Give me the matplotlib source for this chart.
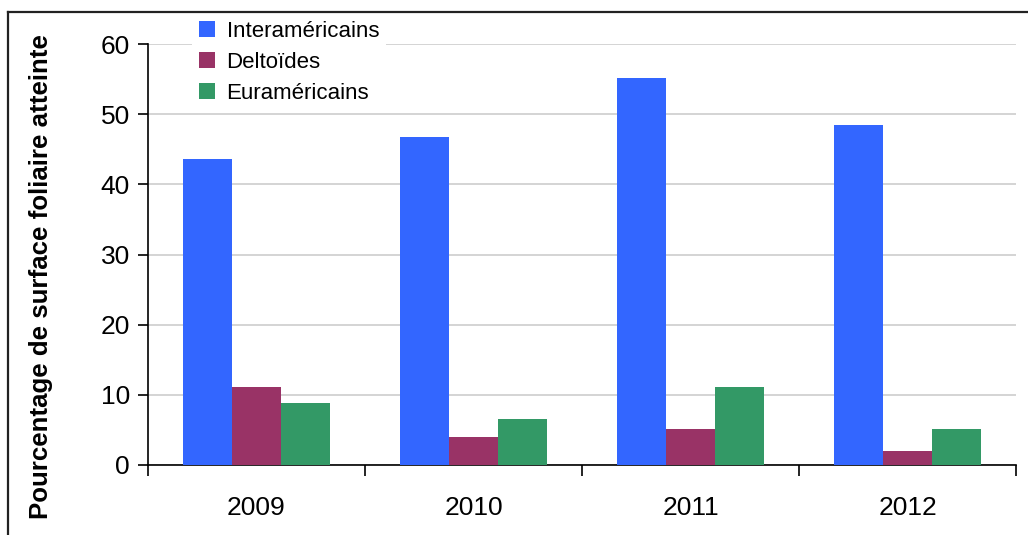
import matplotlib
matplotlib.use("Agg")
import matplotlib.pyplot as plt
import numpy as np
from matplotlib.lines import Line2D

years = ["2009", "2010", "2011", "2012"]
series_names = ["Interaméricains", "Deltoïdes", "Euraméricains"]
interamericains = [43.6, 46.8, 55.1, 48.5]
deltoides = [11.1, 4.0, 5.1, 2.0]
euramericains = [8.8, 6.5, 11.1, 5.1]
colors = ["#3366FF", "#993366", "#339966"]
yticks = [0, 10, 20, 30, 40, 50, 60]

plt.rcParams['font.family'] = ['Liberation Sans', 'DejaVu Sans']

fig = plt.figure(figsize=(10.28, 5.35), dpi=100)
ax = fig.add_axes([148/1028, 1-465/535, (1016-148)/1028, (465-44)/535])

x = np.arange(len(years))
w = 0.227
for i, (vals, name) in enumerate(zip([interamericains, deltoides, euramericains], series_names)):
    ax.bar(x + (i-1)*w, vals, width=w, color=colors[i], label=name, zorder=3)

ax.set_xlim(-0.5, len(years)-0.5)
ax.set_ylim(0, 60)
ax.set_yticks(yticks)
ax.set_yticklabels([str(t) for t in yticks], fontsize=19)
ax.yaxis.grid(True, color="#d4d4d4", linewidth=1.4, zorder=0)
ax.set_axisbelow(True)
ax.set_xticks(x)
ax.set_xticklabels(years, fontsize=19)
ax.set_xticks(np.arange(-0.5, len(years), 1.0), minor=True)
ax.tick_params(axis='x', which='major', length=0, pad=22)
ax.tick_params(axis='x', which='minor', length=8, width=1.2, direction='out')
ax.tick_params(axis='y', length=7, width=1.2, direction='out', pad=6)
for s in ['top', 'right']:
    ax.spines[s].set_visible(False)
ax.spines['left'].set_linewidth(1.2)
ax.spines['bottom'].set_linewidth(1.2)

ax.set_ylabel("Pourcentage de surface foliaire atteinte", fontsize=18.6, fontweight='bold')
ax.yaxis.set_label_coords(-0.11, 0.447)

leg = ax.legend(loc='upper left', bbox_to_anchor=(0.038, 1.098), fontsize=16, frameon=True,
                fancybox=False, edgecolor='none', facecolor='white', framealpha=1,
                handlelength=0.75, handleheight=0.75, handletextpad=0.5, labelspacing=0.45,
                borderpad=0.3)
leg.set_zorder(5)

# outer border
fig.add_artist(Line2D([8/1028, 8/1028], [0, 1-12/535], transform=fig.transFigure, color='#222222', linewidth=1.6))
fig.add_artist(Line2D([8/1028, 1], [1-12/535, 1-12/535], transform=fig.transFigure, color='#222222', linewidth=1.6))

fig.savefig("out.png", dpi=100)
